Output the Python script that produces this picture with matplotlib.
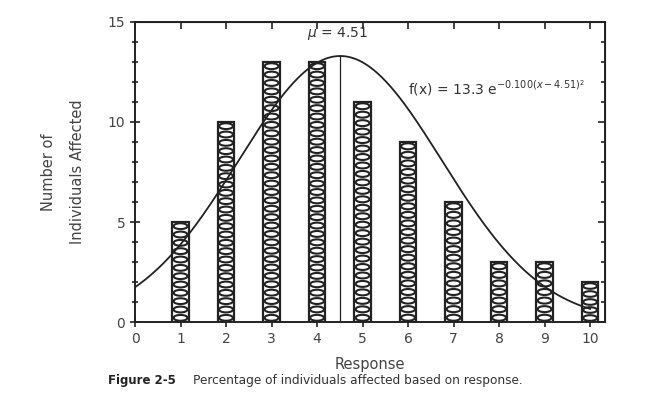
import matplotlib.pyplot as plt
import numpy as np
from matplotlib.patches import Ellipse

response = [1, 2, 3, 4, 5, 6, 7, 8, 9, 10]
counts = [5, 10, 13, 13, 11, 9, 6, 3, 3, 2]
mu = 4.51
amp = 13.3
k = 0.100

fig = plt.figure(figsize=(6.57, 4.19), dpi=100)
fig.patch.set_facecolor('white')
ax = fig.add_axes([0.2055, 0.2315, 0.7155, 0.716])

ink = '#222222'
bar_w = 0.36
ring_h = 0.42
for x, c in zip(response, counts):
    ax.add_patch(plt.Rectangle((x - bar_w / 2, 0), bar_w, c, facecolor='white',
                               edgecolor=ink, lw=1.6, zorder=2))
    n = int(round(c / ring_h))
    for i in range(n):
        yc = (i + 0.5) * c / n
        ax.add_patch(Ellipse((x, yc), bar_w * 0.85, c / n * 0.7, facecolor='white',
                             edgecolor=ink, lw=1.5, zorder=3))

# fitted curve
xs = np.linspace(0, 10, 300)
ax.plot(xs, amp * np.exp(-k * (xs - mu) ** 2), color=ink, lw=1.3, zorder=4)
ax.plot([mu, mu], [0, amp], color=ink, lw=0.9, zorder=4)

ax.text(mu - 0.05, 14.0, r'$\mu$ = 4.51', ha='center', va='bottom', fontsize=10, color='#333333')
ax.text(6.0, 11.7, r'f(x) = 13.3 e$^{-0.100(x-4.51)^2}$', ha='left', va='center',
        fontsize=10, color='#333333')

ax.set_xlim(0, 10.33)
ax.set_ylim(0, 15)
ax.set_xticks(range(0, 11))
ax.set_yticks([0, 5, 10, 15])
ax.set_yticks(range(0, 16), minor=True)
ax.tick_params(which='both', direction='inout', labelsize=10,
               labelcolor='#444444', color=ink, width=1.2)
ax.tick_params(which='major', length=7)
ax.tick_params(which='minor', length=4)
for s in ax.spines.values():
    s.set_linewidth(1.4)
    s.set_color(ink)

# top and right ticks point inward only
top = ax.secondary_xaxis('top')
top.set_xticks(range(0, 11))
top.tick_params(direction='in', length=5, width=1.2, color=ink, labeltop=False)
right = ax.secondary_yaxis('right')
right.set_yticks([0, 5, 10, 15])
right.set_yticks(range(0, 16), minor=True)
right.tick_params(which='both', direction='in', width=1.2, color=ink, labelright=False)
right.tick_params(which='major', length=5)
right.tick_params(which='minor', length=3)

ax.set_xlabel('Response', fontsize=10.5, color='#444444', labelpad=8)
ax.set_ylabel('Number of\nIndividuals Affected', fontsize=10.5, color='#444444',
              labelpad=16, linespacing=2.2)

fig.text(0.165, 0.083, 'Figure 2-5', fontsize=8.5, fontweight='bold', color='#222222')
fig.text(0.294, 0.083, 'Percentage of individuals affected based on response.', fontsize=8.7,
         color='#333333')

fig.savefig('out.png', dpi=100)
